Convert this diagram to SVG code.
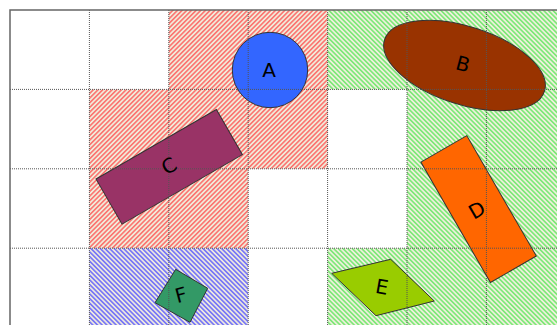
<svg xmlns="http://www.w3.org/2000/svg" width="557" height="325" viewBox="0 0 557 325">
<defs>
<pattern id="hRed" patternUnits="userSpaceOnUse" width="3.3" height="10" patternTransform="rotate(45)">
<rect width="3.3" height="10" fill="#f1ebda"/>
<line x1="0.8" y1="0" x2="0.8" y2="10" stroke="#ff4d4d" stroke-width="1.2"/>
</pattern>
<pattern id="hGreen" patternUnits="userSpaceOnUse" width="3.3" height="10" patternTransform="rotate(-45)">
<rect width="3.3" height="10" fill="#eef0dc"/>
<line x1="0.8" y1="0" x2="0.8" y2="10" stroke="#55e655" stroke-width="1.2"/>
</pattern>
<pattern id="hBlue" patternUnits="userSpaceOnUse" width="3.3" height="10" patternTransform="rotate(-45)">
<rect width="3.3" height="10" fill="#ece8e0"/>
<line x1="0.8" y1="0" x2="0.8" y2="10" stroke="#4d4dff" stroke-width="1.2"/>
</pattern>
<style>
.shape{stroke:#333;stroke-width:1}
.lbl{font-family:"DejaVu Sans",sans-serif;font-size:20px;fill:#000;text-anchor:middle;dominant-baseline:central}
.grid{stroke:#555;stroke-width:1;stroke-dasharray:1 1;fill:none}
.border{stroke:#666;stroke-width:1.5;fill:none}
</style>
</defs>
<rect width="557" height="325" fill="#fff"/>
<g id="regions">
<path fill="url(#hRed)" d="M168.8,10H327.6V168.8H248.2V248.2H89.4V89.4H168.8Z"/>
<rect fill="url(#hBlue)" x="89.4" y="248.2" width="158.8" height="79.4"/>
<path fill="url(#hGreen)" d="M327.6,10H565.8V327.6H327.6V248.2H407V89.4H327.6Z"/>
</g>
<g id="node-A"><circle class="shape" cx="270" cy="70" r="37.7" fill="#3366ff"/></g>
<g id="node-B"><ellipse class="shape" cx="464.5" cy="65.5" rx="84" ry="39" transform="rotate(18 464.5 65.5)" fill="#993300"/></g>
<g id="node-C"><rect class="shape" x="-69.5" y="-26" width="139" height="52" transform="translate(169.2 166.8) rotate(-30)" fill="#993366"/></g>
<g id="node-D"><rect class="shape" x="-26.5" y="-69.5" width="53" height="139" transform="translate(478.6 209.1) rotate(-30)" fill="#ff6600"/></g>
<g id="node-E"><polygon class="shape" points="331.7,273.3 390.7,259.3 434.3,301 376,315.7" fill="#99cc00"/></g>
<g id="node-F"><polygon class="shape" points="175.7,269.3 207.7,288.3 190,322.3 155,302.7" fill="#339966"/></g>
<g id="grid">
<path class="grid" d="M89.4,10V325M168.8,10V325M248.2,10V325M327.6,10V325M407,10V325M486.4,10V325M10,89.4H557M10,168.8H557M10,248.2H557"/>
<path class="border" d="M10,325V10H557"/>
</g>
<g id="labels">
<text class="lbl" x="269" y="70">A</text>
<text class="lbl" x="463" y="64" transform="rotate(15 463 64)">B</text>
<text class="lbl" x="169" y="166" transform="rotate(-30 169 166)">C</text>
<text class="lbl" x="477" y="210" transform="rotate(-30 477 210)">D</text>
<text class="lbl" x="382" y="287" transform="rotate(10 382 287)">E</text>
<text class="lbl" x="181" y="295" transform="rotate(-15 181 295)">F</text>
</g>
</svg>
